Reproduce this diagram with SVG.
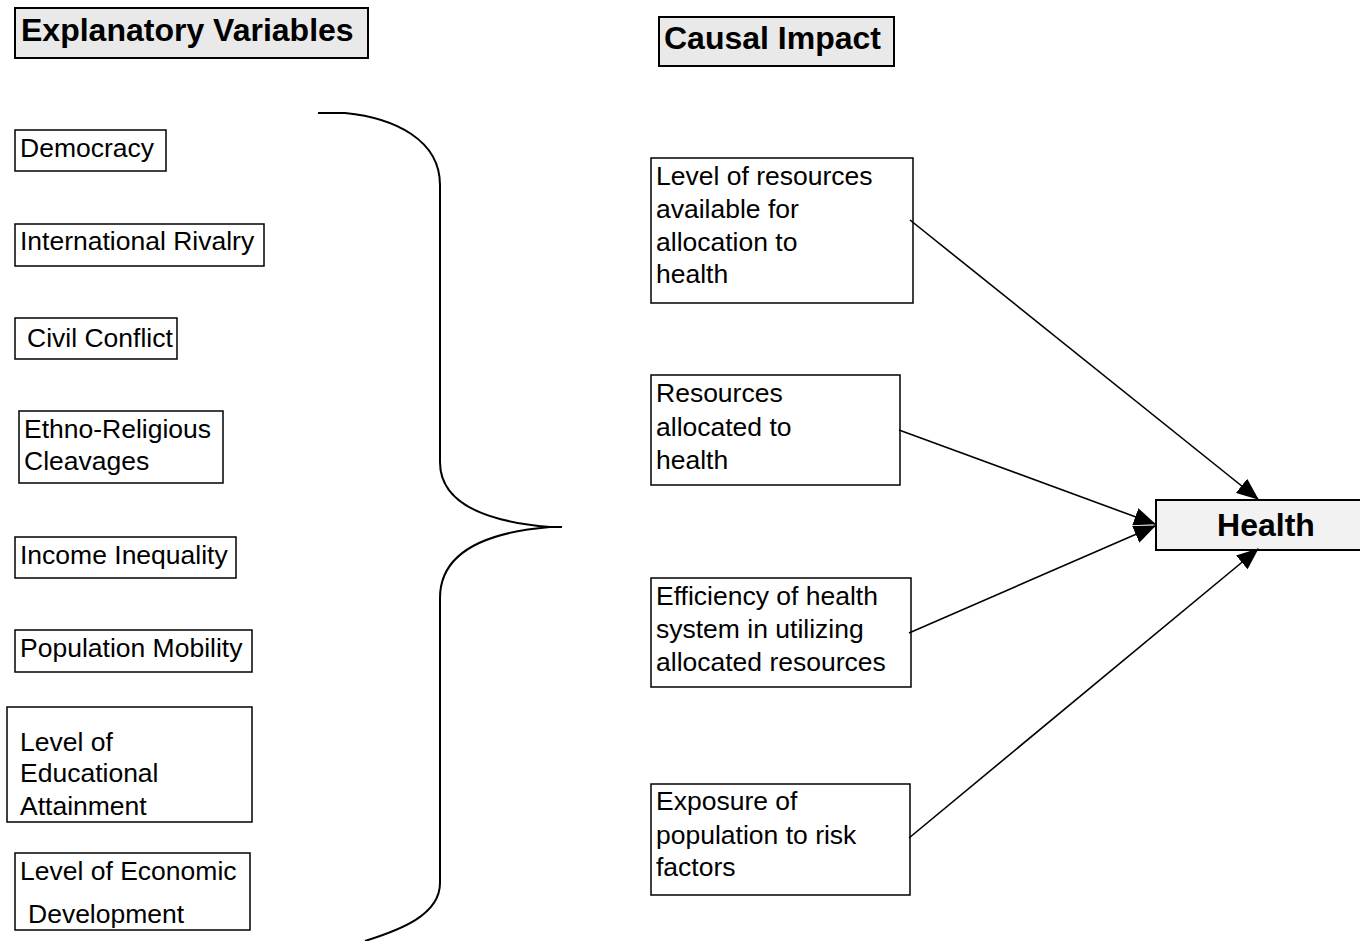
<svg xmlns="http://www.w3.org/2000/svg" width="1360" height="941" viewBox="0 0 1360 941">
<style>
.box{fill:#fff;stroke:#000;stroke-width:1.5}
.hdr{fill:#e9e9e9;stroke:#000;stroke-width:2}
.hl{fill:#f2f2f2;stroke:#000;stroke-width:2}
.t{font-family:"Liberation Sans",Arial,sans-serif;font-size:26.5px;fill:#000}
.b{font-family:"Liberation Sans",Arial,sans-serif;font-size:32px;font-weight:bold;fill:#000}
.ln{fill:none;stroke:#000;stroke-width:1.6}
.br{fill:none;stroke:#000;stroke-width:2}
</style>
<defs>
<marker id="ah" markerUnits="userSpaceOnUse" markerWidth="22" markerHeight="18" refX="21" refY="9" orient="auto">
<path d="M0,0 L22,9 L0,18 z" fill="#000"/>
</marker>
</defs>
<rect width="1360" height="941" fill="#fff"/>
<g id="hdr-explanatory"><rect class="hdr" x="15" y="8" width="353" height="50"/><text class="b" x="21" y="41">Explanatory Variables</text></g>
<g id="hdr-causal"><rect class="hdr" x="659" y="17" width="235" height="49"/><text class="b" x="664" y="49">Causal Impact</text></g>
<g id="democracy"><rect class="box" x="15" y="130" width="151" height="41"/><text class="t" x="20" y="157">Democracy</text></g>
<g id="intl-rivalry"><rect class="box" x="15" y="224" width="249" height="42"/><text class="t" x="20" y="250">International Rivalry</text></g>
<g id="civil-conflict"><rect class="box" x="15" y="318" width="162" height="41"/><text class="t" x="27" y="347">Civil Conflict</text></g>
<g id="ethno"><rect class="box" x="19" y="411" width="204" height="72"/><text class="t" x="24" y="438">Ethno-Religious</text><text class="t" x="24" y="470">Cleavages</text></g>
<g id="income"><rect class="box" x="15" y="537" width="221" height="41"/><text class="t" x="20" y="564">Income Inequality</text></g>
<g id="population"><rect class="box" x="15" y="630" width="237" height="42"/><text class="t" x="20" y="657">Population Mobility</text></g>
<g id="education"><rect class="box" x="7" y="707" width="245" height="115"/><text class="t" x="20" y="751">Level of</text><text class="t" x="20" y="782">Educational</text><text class="t" x="20" y="815">Attainment</text></g>
<g id="economic"><rect class="box" x="15" y="853" width="235" height="77"/><text class="t" x="20" y="880">Level of Economic</text><text class="t" x="28" y="923">Development</text></g>
<g id="res-available"><rect class="box" x="651" y="158" width="262" height="145"/><text class="t" x="656" y="185">Level of resources</text><text class="t" x="656" y="218">available for</text><text class="t" x="656" y="251">allocation to</text><text class="t" x="656" y="283">health</text></g>
<g id="res-allocated"><rect class="box" x="651" y="375" width="249" height="110"/><text class="t" x="656" y="402">Resources</text><text class="t" x="656" y="436">allocated to</text><text class="t" x="656" y="469">health</text></g>
<g id="efficiency"><rect class="box" x="651" y="578" width="260" height="109"/><text class="t" x="656" y="605">Efficiency of health</text><text class="t" x="656" y="638">system in utilizing</text><text class="t" x="656" y="671">allocated resources</text></g>
<g id="exposure"><rect class="box" x="651" y="784" width="259" height="111"/><text class="t" x="656" y="810">Exposure of</text><text class="t" x="656" y="844">population to risk</text><text class="t" x="656" y="876">factors</text></g>
<g id="health"><rect class="hl" x="1156" y="500" width="210" height="50"/><text class="b" x="1266" y="536" text-anchor="middle">Health</text></g>
<g id="connectors">
<path class="br" d="M318,113 L345,113 C395,118 440,140 440,185 L440,462 C440,505 490,522 550,527 L562,527 M550,527 C490,532 440,550 440,598 L440,883 C440,915 400,930 365,941"/>
<line class="ln" x1="910" y1="220" x2="1258" y2="499" marker-end="url(#ah)"/>
<line class="ln" x1="899" y1="430" x2="1155" y2="524" marker-end="url(#ah)"/>
<line class="ln" x1="909" y1="633" x2="1155" y2="526" marker-end="url(#ah)"/>
<line class="ln" x1="909" y1="838" x2="1258" y2="549" marker-end="url(#ah)"/>
</g>
</svg>
